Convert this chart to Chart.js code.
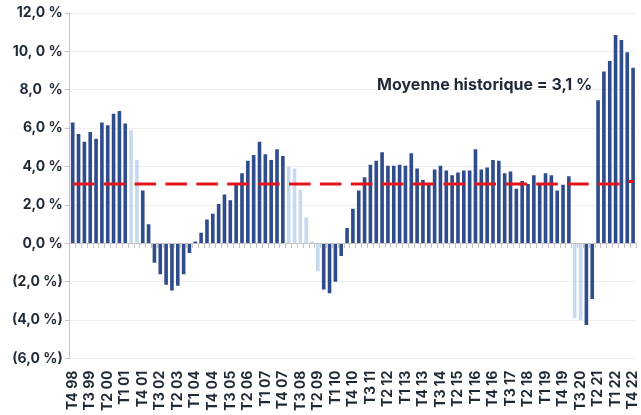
<!DOCTYPE html>
<html>
<head>
<meta charset="utf-8">
<script src="https://cdn.jsdelivr.net/npm/chart.js@4/dist/chart.umd.min.js"></script>
<style>
html,body{margin:0;padding:0;background:#fff;}
#wrap{width:641px;height:415px;position:relative;}
</style>
</head>
<body>
<div id="wrap"><canvas id="c" width="641" height="415"></canvas></div>
<script>
const categories = [
"T4 98",
"T1 99","T2 99","T3 99","T4 99",
"T1 00","T2 00","T3 00","T4 00",
"T1 01","T2 01","T3 01","T4 01",
"T1 02","T2 02","T3 02","T4 02",
"T1 03","T2 03","T3 03","T4 03",
"T1 04","T2 04","T3 04","T4 04",
"T1 05","T2 05","T3 05","T4 05",
"T1 06","T2 06","T3 06","T4 06",
"T1 07","T2 07","T3 07","T4 07",
"T1 08","T2 08","T3 08","T4 08",
"T1 09","T2 09","T3 09","T4 09",
"T1 10","T2 10","T3 10","T4 10",
"T1 11","T2 11","T3 11","T4 11",
"T1 12","T2 12","T3 12","T4 12",
"T1 13","T2 13","T3 13","T4 13",
"T1 14","T2 14","T3 14","T4 14",
"T1 15","T2 15","T3 15","T4 15",
"T1 16","T2 16","T3 16","T4 16",
"T1 17","T2 17","T3 17","T4 17",
"T1 18","T2 18","T3 18","T4 18",
"T1 19","T2 19","T3 19","T4 19",
"T1 20","T2 20","T3 20","T4 20",
"T1 21","T2 21","T3 21","T4 21",
"T1 22","T2 22","T3 22","T4 22"
];

const growth = [
6.3,
5.7,5.3,5.8,5.45,
6.3,6.15,6.75,6.9,
6.25,5.9,4.35,2.75,
1.0,-1.0,-1.6,-2.15,
-2.45,-2.2,-1.6,-0.5,
0.1,0.55,1.25,1.55,
2.05,2.55,2.25,3.1,
3.65,4.3,4.6,5.3,
4.65,4.35,4.9,4.55,
4.0,3.9,2.8,1.35,
0.1,-1.45,-2.4,-2.6,
-2.0,-0.65,0.8,1.8,
2.75,3.45,4.1,4.3,
4.75,4.05,4.05,4.1,
4.05,4.7,3.9,3.3,
3.1,3.85,4.05,3.8,
3.55,3.7,3.8,3.8,
4.9,3.85,3.95,4.35,
4.3,3.65,3.75,2.85,
3.25,3.1,3.55,3.15,
3.65,3.55,2.75,3.05,
3.5,-3.9,-4.0,-4.25,
-2.9,7.45,8.95,9.5,
10.85,10.6,9.95,9.15
];

// quarters shown in the lighter shade
const highlighted = ["T2 01","T3 01","T1 08","T2 08","T3 08","T4 08","T1 09","T2 09","T2 20","T3 20"];

// historical average line
const average = categories.map((c, i) => i >= 95 ? 3.22 : 3.1);

const shownLabels = ["T4 98","T3 99","T2 00","T1 01","T4 01","T3 02","T2 03","T1 04","T4 04","T3 05","T2 06","T1 07","T4 07","T3 08","T2 09","T1 10","T4 10","T3 11","T2 12","T1 13","T4 13","T3 14","T2 15","T1 16","T4 16","T3 17","T2 18","T1 19","T4 19","T3 20","T2 21","T1 22","T4 22"];

const yTickValues = [-6,-4,-2,0,2,4,6,8,10,12];
const yTickLabels = ["(6,0 %)","(4,0 %)","(2,0 %)","0,0 %","2,0 %","4,0 %","6,0 %","8,0  %","10, 0 %","12,0 %"];

const annotationText = "Moyenne historique = 3,1 %";

const DARK = "#2f4c8c";
const LIGHT = "#c6d9ef";
const TEXT = "#1f2a36";

const annotationPlugin = {
  id: "annot",
  afterDatasetsDraw(chart) {
    const {ctx, scales} = chart;
    const x = scales.x.getPixelForValue(89);
    const y = scales.y.getPixelForValue(8.25);
    ctx.save();
    ctx.font = "bold 16px Inter";
    ctx.fillStyle = TEXT;
    ctx.textAlign = "right";
    ctx.textBaseline = "middle";
    ctx.fillText(annotationText, x, y);
    ctx.restore();
  }
};

new Chart(document.getElementById("c"), {
  data: {
    labels: categories,
    datasets: [
      {
        type: "line",
        label: "Moyenne",
        data: average,
        borderColor: "#e3151c",
        borderWidth: 3,
        borderDash: [21.6, 9.3],
        pointRadius: 0,
        fill: false,
        tension: 0,
        order: 0,
        xAxisID: "x",
        yAxisID: "y"
      },
      {
        type: "bar",
        label: "Croissance",
        data: growth,
        backgroundColor: categories.map(c => highlighted.includes(c) ? LIGHT : DARK),
        borderWidth: 0,
        barPercentage: 0.62,
        categoryPercentage: 1.0,
        order: 1,
        xAxisID: "x",
        yAxisID: "y"
      }
    ]
  },
  options: {
    responsive: false,
    animation: false,
    devicePixelRatio: 1,
    layout: { padding: { left: 10, right: 5, top: 13, bottom: 0 } },
    plugins: { legend: { display: false }, tooltip: { enabled: false } },
    scales: {
      x: {
        type: "category",
        position: "bottom",
        offset: true,
        grid: { display: false },
        border: { display: false },
        afterFit: (axis) => { axis.paddingLeft = 0; axis.paddingRight = 0; },
        ticks: {
          autoSkip: false,
          minRotation: 90,
          maxRotation: 90,
          padding: 4,
          color: TEXT,
          font: { family: "Inter", weight: "bold", size: 14 },
          callback: function(v, i) {
            const l = categories[i];
            return shownLabels.includes(l) ? l : "";
          }
        }
      },
      x0: {
        type: "category",
        labels: categories,
        position: { y: 0 },
        offset: true,
        grid: { offset: true, drawOnChartArea: false, tickLength: 4, color: "#c4c4c4" },
        border: { color: "#c4c4c4" },
        ticks: { display: false, autoSkip: false }
      },
      y: {
        min: -6,
        max: 12,
        afterBuildTicks: (axis) => { axis.ticks = yTickValues.map(v => ({ value: v })); },
        afterFit: (axis) => { axis.paddingTop = 0; axis.paddingBottom = 0; },
        grid: { color: "#eeeeee", tickLength: 5, tickColor: "#c4c4c4" },
        border: { color: "#c4c4c4" },
        ticks: {
          padding: 2,
          color: TEXT,
          font: { family: "Inter", weight: "bold", size: 14 },
          callback: function(v) {
            const k = yTickValues.indexOf(v);
            return k >= 0 ? yTickLabels[k] : "";
          }
        }
      }
    }
  },
  plugins: [annotationPlugin]
});
</script>
</body>
</html>
